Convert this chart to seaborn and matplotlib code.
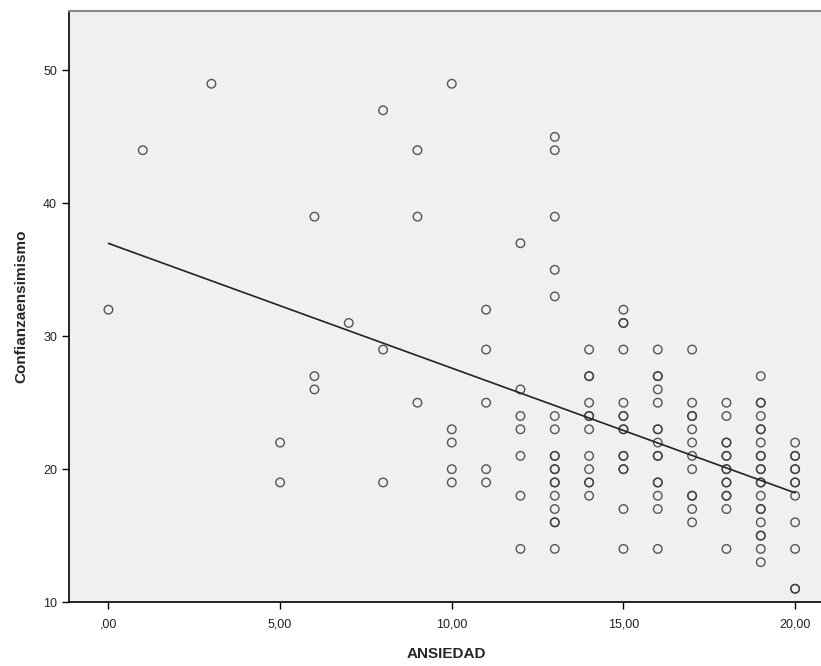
import numpy as np
import pandas as pd
import matplotlib
matplotlib.use('Agg')
import matplotlib.pyplot as plt
import seaborn as sns

# values read per ANSIEDAD column (duplicates = bold rings)
ans_0 = [32]
ans_1 = [44]
ans_3 = [49]
ans_5 = [22, 19]
ans_6 = [39, 27, 26]
ans_7 = [31]
ans_8 = [47, 29, 19]
ans_9 = [44, 39, 25]
ans_10 = [49, 23, 22, 20, 19]
ans_11 = [32, 29, 25, 20, 19]
ans_12 = [37, 26, 24, 23, 21, 18, 14]
ans_13 = [45, 44, 39, 35, 33, 24, 23, 21, 21, 20, 20, 19, 19, 18, 17, 16, 16, 14]
ans_14 = [29, 27, 27, 25, 24, 24, 23, 21, 20, 19, 19, 18]
ans_15 = [32, 31, 31, 29, 25, 24, 24, 23, 23, 21, 21, 20, 20, 17, 14]
ans_16 = [29, 27, 27, 26, 25, 23, 23, 22, 21, 21, 19, 19, 18, 17, 14]
ans_17 = [29, 25, 24, 24, 23, 22, 21, 20, 18, 18, 17, 16]
ans_18 = [25, 24, 22, 22, 21, 21, 20, 20, 19, 19, 18, 18, 17, 14]
ans_19 = [27, 25, 25, 24, 23, 23, 22, 21, 21, 20, 20, 19, 19, 18, 17, 17, 16, 15, 15, 14, 13]
ans_20 = [22, 21, 21, 20, 20, 19, 19, 18, 16, 14, 11, 11]

columns = {0: ans_0, 1: ans_1, 3: ans_3, 5: ans_5, 6: ans_6, 7: ans_7, 8: ans_8,
           9: ans_9, 10: ans_10, 11: ans_11, 12: ans_12, 13: ans_13, 14: ans_14,
           15: ans_15, 16: ans_16, 17: ans_17, 18: ans_18, 19: ans_19, 20: ans_20}

rows = []
for k, vals in columns.items():
    for v in vals:
        rows.append((k, v))
df = pd.DataFrame(rows, columns=['ANSIEDAD', 'Confianzaensimismo'])

sns.set_style('white')
plt.rcParams['font.family'] = ['Liberation Sans', 'DejaVu Sans']

fig = plt.figure(figsize=(8.21, 6.66), dpi=100)
ax = fig.add_axes([0.084, 0.096, 0.92, 0.888])
ax.set_facecolor('#f0f0f0')

sns.regplot(data=df, x='ANSIEDAD', y='Confianzaensimismo', ax=ax, ci=None,
            scatter_kws=dict(s=38, facecolors='none', edgecolors='#3a3a3a', linewidths=1.0, alpha=0.85),
            line_kws=dict(color='#222222', lw=1.2))

ax.set_xlim(-1.15, 20.85)
ax.set_ylim(10, 54.5)
ax.set_xticks([0, 5, 10, 15, 20])
ax.set_xticklabels([',00', '5,00', '10,00', '15,00', '20,00'])
ax.set_yticks([10, 20, 30, 40, 50])
ax.tick_params(axis='both', labelsize=9, length=5, width=1, color='black', direction='out',
               bottom=True, left=True, labelcolor='#222222')
ax.tick_params(axis='x', pad=7)

for s in ['left', 'bottom']:
    ax.spines[s].set_color('black')
    ax.spines[s].set_linewidth(1.2)
ax.spines['top'].set_color('#888888')
ax.spines['top'].set_linewidth(1.5)
ax.spines['right'].set_visible(False)

ax.set_xlabel('ANSIEDAD', fontsize=11, fontweight='bold', labelpad=12)
ax.set_ylabel('Confianzaensimismo', fontsize=11, fontweight='bold', labelpad=11)

fig.savefig('out.png', dpi=100)
